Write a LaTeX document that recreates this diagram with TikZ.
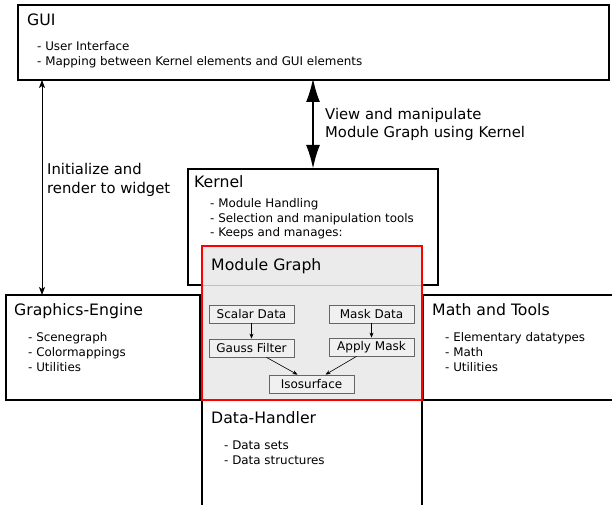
\documentclass[tikz,border=0pt]{standalone}
\usepackage{fontspec}
\setmainfont{DejaVu Sans}
\usetikzlibrary{arrows.meta}
\begin{document}
\begin{tikzpicture}[x=1pt,y=-1pt,
  blk/.style={draw=black,line width=1.8pt,fill=white},
  ttl/.style={anchor=base west,inner sep=0pt,font=\fontsize{15.7}{18}\selectfont},
  lst/.style={anchor=base west,inner sep=0pt,font=\fontsize{11.9}{15}\selectfont,align=left},
  lbl/.style={anchor=base west,inner sep=0pt,font=\fontsize{14.8}{18}\selectfont},
  mod/.style={draw=black!60,line width=0.8pt,fill=black!6,minimum width=85pt,minimum height=18pt,inner sep=0pt,font=\fontsize{12}{13}\selectfont},
  thin/.style={-{Stealth[length=5pt,width=4pt]},line width=0.6pt}
]
\useasboundingbox (0,0) rectangle (612,505);
% boxes
\draw[blk] (18,5) rectangle (609,80);
\coordinate (guiL) at (42,80);
\coordinate (guiM) at (313,80);
\node[ttl] (guit) at (27,26) {GUI};
\node[lst] (guil1) at (37,51) {- User Interface};
\node[lst] (guil2) at (37,66) {- Mapping between Kernel elements and GUI elements};

\draw[blk] (188,169) rectangle (438,285);
\coordinate (kerT) at (313,169);
\node[ttl] (kert) at (194,187) {Kernel};
\node[lst] (kerl1) at (210,207) {- Module Handling};
\node[lst] (kerl2) at (210,222) {- Selection and manipulation tools};
\node[lst] (kerl3) at (210,236) {- Keeps and manages:};

\draw[blk] (6,295) rectangle (200,400);
\coordinate (geT) at (42,295);
\node[ttl] (get) at (14,315) {Graphics-Engine};
\node[lst] (gel1) at (28,341) {- Scenegraph};
\node[lst] (gel2) at (28,356) {- Colormappings};
\node[lst] (gel3) at (28,371) {- Utilities};

\draw[blk] (423,295) rectangle (616,400);
\node[ttl] (matht) at (432,315) {Math and Tools};
\node[lst] (mathl1) at (445,341) {- Elementary datatypes};
\node[lst] (mathl2) at (445,356) {- Math};
\node[lst] (mathl3) at (445,371) {- Utilities};

\draw[blk] (202,400) rectangle (422,507);
\node[ttl] (dht) at (211,423) {Data-Handler};
\node[lst] (dhl1) at (224,449) {- Data sets};
\node[lst] (dhl2) at (224,464) {- Data structures};

% module graph
\draw[draw=red,line width=1.8pt,fill=black!8] (202,246) rectangle (422,400);
\draw[black!25,line width=1pt] (203,285) -- (421,285);
\node[ttl] (mgt) at (211,270) {Module Graph};
\node[mod] (scalar) at (251.5,314) {Scalar Data};
\node[mod] (mask) at (371.5,314) {Mask Data};
\node[mod] (gauss) at (251.5,348) {Gauss Filter};
\node[mod] (apply) at (371.5,347) {Apply Mask};
\node[mod] (iso) at (311.5,384) {Isosurface};
\draw[thin] (scalar) -- (gauss);
\draw[thin] (mask) -- (apply);
\draw[thin] ([xshift=15pt]gauss.south) -- ([xshift=-14pt]iso.north);
\draw[thin] ([xshift=-15pt]apply.south) -- ([xshift=14pt]iso.north);

% arrows
\draw[{Stealth[length=8pt,width=6pt,inset=2pt]}-{Stealth[length=8pt,width=6pt,inset=2pt]},line width=0.8pt] (guiL) -- (geT);
\draw[{Latex[length=24pt,width=14pt]}-{Latex[length=24pt,width=14pt]},line width=2.5pt] ([yshift=2pt]guiM) -- (kerT);
\node[lbl] (lab1) at (325,120) {View and manipulate};
\node[lbl] (lab2) at (325,138) {Module Graph using Kernel};
\node[lbl] (lab3) at (47,175) {Initialize and};
\node[lbl] (lab4) at (47,193) {render to widget};
\end{tikzpicture}
\end{document}
